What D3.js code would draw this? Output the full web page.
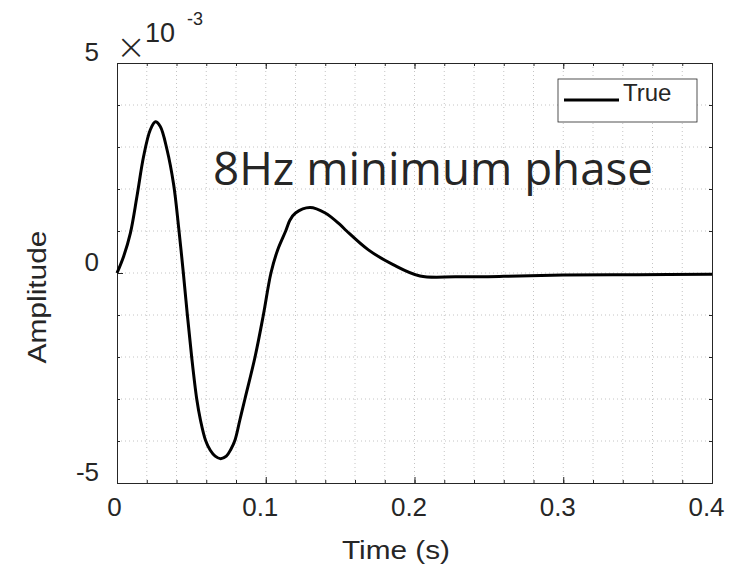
<!DOCTYPE html>
<html>
<head>
<meta charset="utf-8">
<script src="https://cdn.jsdelivr.net/npm/d3@7"></script>
<style>
  body { margin: 0; background: #fff; }
  text { font-family: "Liberation Sans", Arial, sans-serif; fill: #262626; }
</style>
</head>
<body>
<div id="chart"></div>
<script>
// wavelet: time in s, amplitude in units of 1e-3
const time = [0, 0.0045, 0.009, 0.0134, 0.0179, 0.0224, 0.0258, 0.0291, 0.0336, 0.0381,
  0.0414, 0.0446, 0.0473, 0.0502, 0.0536, 0.0561, 0.0595, 0.0627, 0.066, 0.0697,
  0.0735, 0.0765, 0.0793, 0.0826, 0.086, 0.0928, 0.0984, 0.1035, 0.108, 0.1134,
  0.1163, 0.12, 0.1297, 0.14, 0.15, 0.1544, 0.169, 0.1856, 0.2037, 0.228,
  0.26, 0.3, 0.35, 0.4];
const amp = [0, 0.40, 0.95, 1.82, 2.78, 3.41, 3.6, 3.49, 2.94, 2.1,
  1.1, 0.0, -1.0, -2.0, -3.0, -3.5, -3.98, -4.22, -4.36, -4.42,
  -4.36, -4.2, -3.98, -3.5, -3.0, -2.0, -1.0, 0.0, 0.55, 1.0,
  1.26, 1.43, 1.56, 1.43, 1.15, 1.0, 0.55, 0.2, -0.07, -0.09,
  -0.08, -0.05, -0.04, -0.03];

const xTicks = [0, 0.1, 0.2, 0.3, 0.4];
const yTicks = [-5, 0, 5];
const xMinor = d3.range(0, 0.4001, 0.02);
const yMinor = d3.range(-5, 5.001, 1);
const seriesName = "True";
const note = "8Hz minimum phase";

const width = 748, height = 572;
const margin = {top: 63, right: 36, bottom: 89, left: 117};
const w = width - margin.left - margin.right;
const h = height - margin.top - margin.bottom;

const svg = d3.select("#chart")
    .append("svg")
    .attr("width", width)
    .attr("height", height);

const g = svg.append("g")
    .attr("transform", "translate(" + margin.left + "," + margin.top + ")");

const x = d3.scaleLinear().domain([0, 0.4]).range([0, w]);
const y = d3.scaleLinear().domain([-5, 5]).range([h, 0]);

// dotted grid
g.selectAll(".vgrid")
    .data(xMinor.slice(1, -1))
    .enter().append("line")
    .attr("x1", d => x(d)).attr("x2", d => x(d))
    .attr("y1", 0).attr("y2", h)
    .attr("stroke", "#c4c4c4")
    .attr("stroke-dasharray", "1,3");
g.selectAll(".hgrid")
    .data(yMinor.slice(1, -1))
    .enter().append("line")
    .attr("y1", d => y(d)).attr("y2", d => y(d))
    .attr("x1", 0).attr("x2", w)
    .attr("stroke", "#c4c4c4")
    .attr("stroke-dasharray", "1,3");

// axes: ticks inside, box all round
function styleAxis(sel) {
    sel.select(".domain").attr("stroke", "#262626");
    sel.selectAll(".tick line").attr("stroke", "#262626");
}
g.append("g")
    .attr("transform", "translate(0," + h + ")")
    .call(d3.axisBottom(x).tickValues(xMinor).tickSize(-3).tickSizeOuter(0).tickFormat(""))
    .call(styleAxis);
const xAxis = g.append("g")
    .attr("transform", "translate(0," + h + ")")
    .call(d3.axisBottom(x).tickValues(xTicks).tickSize(-6).tickSizeOuter(0).tickFormat(d3.format("")))
    .call(styleAxis);
xAxis.selectAll("text")
    .attr("y", 33).attr("dy", 0).attr("dx", d => d === 0 ? -3 : -6)
    .style("font-size", "26px")
    .attr("fill", "#262626");

g.append("g")
    .call(d3.axisTop(x).tickValues(xMinor).tickSize(-3).tickSizeOuter(0).tickFormat(""))
    .call(styleAxis);
g.append("g")
    .call(d3.axisTop(x).tickValues(xTicks).tickSize(-6).tickSizeOuter(0).tickFormat(""))
    .call(styleAxis);

g.append("g")
    .call(d3.axisLeft(y).tickValues(yMinor).tickSize(-3).tickSizeOuter(0).tickFormat(""))
    .call(styleAxis);
const yAxis = g.append("g")
    .call(d3.axisLeft(y).tickValues(yTicks).tickSize(-6).tickSizeOuter(0).tickFormat(d3.format("")))
    .call(styleAxis);
yAxis.selectAll("text")
    .attr("x", -18).attr("dy", "-0.08em")
    .style("font-size", "26px")
    .attr("fill", "#262626")
    .text(d => d < 0 ? "-" + Math.abs(d) : d);

g.append("g")
    .attr("transform", "translate(" + w + ",0)")
    .call(d3.axisRight(y).tickValues(yMinor).tickSize(-3).tickSizeOuter(0).tickFormat(""))
    .call(styleAxis);
g.append("g")
    .attr("transform", "translate(" + w + ",0)")
    .call(d3.axisRight(y).tickValues(yTicks).tickSize(-6).tickSizeOuter(0).tickFormat(""))
    .call(styleAxis);

// the wavelet
const line = d3.line()
    .x(function (d, i) { return x(time[i]); })
    .y(function (d) { return y(d); })
    .curve(d3.curveCatmullRom.alpha(0.5));

g.append("path")
    .attr("d", line(amp))
    .attr("fill", "none")
    .attr("stroke", "#000")
    .attr("stroke-width", 3)
    .attr("stroke-linejoin", "round");

// exponent label
svg.append("text")
    .attr("x", 131).attr("y", 59)
    .attr("text-anchor", "middle")
    .style("font-family", "'DejaVu Sans', sans-serif")
    .style("font-weight", 200)
    .style("font-size", "36px")
    .text("\u00d7");
svg.append("text")
    .attr("x", 145).attr("y", 42)
    .style("font-size", "27px")
    .text("10");
svg.append("text")
    .attr("x", 187).attr("y", 25)
    .style("font-size", "18px")
    .text("-3");

// legend
const leg = svg.append("g");
leg.append("rect")
    .attr("x", 558).attr("y", 79)
    .attr("width", 139).attr("height", 43)
    .attr("fill", "#fff")
    .attr("stroke", "#262626")
    .attr("stroke-width", 0.8);
leg.append("line")
    .attr("x1", 564).attr("x2", 619)
    .attr("y1", 100).attr("y2", 100)
    .attr("stroke", "#000")
    .attr("stroke-width", 3);
leg.append("text")
    .attr("x", 623).attr("y", 101)
    .style("font-size", "24px")
    .attr("fill", "#000")
    .text(seriesName);

// annotation
svg.append("text")
    .attr("x", 213).attr("y", 185)
    .attr("textLength", 440)
    .attr("lengthAdjust", "spacingAndGlyphs")
    .style("font-family", "'Open Sans', sans-serif")
    .style("font-size", "45px")
    .attr("fill", "#000")
    .text(note);

// axis titles
svg.append("text")
    .attr("x", 396).attr("y", 559)
    .attr("text-anchor", "middle")
    .attr("textLength", 108)
    .attr("lengthAdjust", "spacingAndGlyphs")
    .style("font-size", "25px")
    .text("Time (s)");
svg.append("text")
    .attr("transform", "translate(46,297) rotate(-90)")
    .attr("text-anchor", "middle")
    .attr("textLength", 133)
    .attr("lengthAdjust", "spacingAndGlyphs")
    .style("font-size", "25px")
    .text("Amplitude");
</script>
</body>
</html>
